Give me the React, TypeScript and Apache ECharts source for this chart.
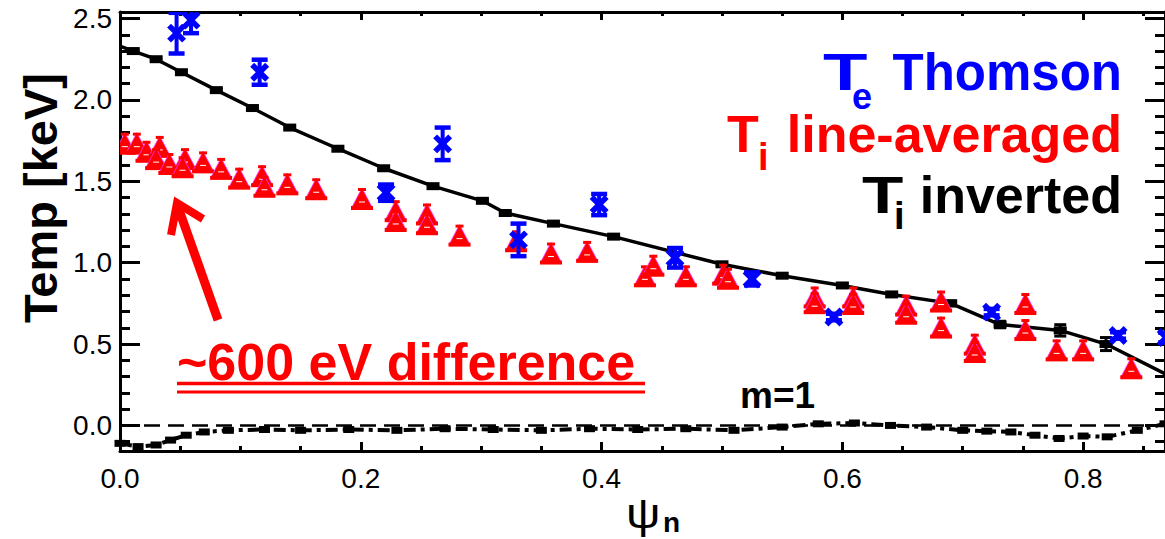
import React, { useEffect, useRef } from "react";
import * as echarts from "echarts";

const FONT = "'Liberation Sans', Arial, Helvetica, sans-serif";

// ---- axis ticks ----
const yMajorTicks = [0, 0.5, 1.0, 1.5, 2.0, 2.5];
const yMinorTicks = [-0.1, 0.1, 0.2, 0.3, 0.4, 0.6, 0.7, 0.8, 0.9, 1.1, 1.2, 1.3, 1.4, 1.6, 1.7, 1.8, 1.9, 2.1, 2.2, 2.3, 2.4];
const xMajorTicks = [0.0, 0.2, 0.4, 0.6, 0.8];
const xMinorTicks = [0.05, 0.1, 0.15, 0.25, 0.3, 0.35, 0.45, 0.5, 0.55, 0.65, 0.7, 0.75, 0.85];

// ---- Ti inverted (black line) ----
const tiInvX = [0.0, 0.011, 0.03, 0.051, 0.08, 0.11, 0.141, 0.181, 0.219, 0.26, 0.301, 0.32, 0.36, 0.41, 0.5, 0.55, 0.6, 0.641, 0.69, 0.731, 0.781, 0.819, 0.87];
const tiInvY = [2.33, 2.3, 2.25, 2.17, 2.06, 1.95, 1.83, 1.7, 1.58, 1.47, 1.38, 1.305, 1.24, 1.16, 0.99, 0.92, 0.86, 0.805, 0.75, 0.62, 0.584, 0.5, 0.31];
const tiInvErr = [0, 0.01, 0.01, 0.01, 0.01, 0.01, 0.01, 0.01, 0.01, 0.01, 0.01, 0.01, 0.01, 0.01, 0.01, 0.01, 0.01, 0.01, 0.015, 0.02, 0.035, 0.04, 0];

// ---- Te Thomson (blue) ----
const teX = [0.047, 0.059, 0.116, 0.221, 0.268, 0.331, 0.398, 0.461, 0.525, 0.593, 0.724, 0.829, 0.869];
const teY = [2.41, 2.49, 2.17, 1.43, 1.73, 1.14, 1.357, 1.03, 0.9, 0.666, 0.696, 0.553, 0.54];
const teErr = [0.125, 0.08, 0.077, 0.05, 0.1, 0.1, 0.065, 0.06, 0.04, 0.02, 0.02, 0.02, 0.03];

// ---- Ti line-averaged (red triangles) ----
const tiLaX = [0.004, 0.014, 0.022, 0.033, 0.03, 0.041, 0.054, 0.052, 0.069, 0.084, 0.099, 0.118, 0.12, 0.139, 0.163, 0.201, 0.229, 0.229, 0.255, 0.255, 0.282, 0.329, 0.358, 0.388, 0.436, 0.443, 0.47, 0.501, 0.505, 0.577, 0.577, 0.609, 0.609, 0.653, 0.653, 0.682, 0.682, 0.71, 0.71, 0.752, 0.752, 0.778, 0.8, 0.84];
const tiLaY = [1.725, 1.725, 1.675, 1.705, 1.63, 1.6, 1.63, 1.58, 1.61, 1.57, 1.51, 1.525, 1.46, 1.475, 1.445, 1.385, 1.31, 1.25, 1.29, 1.23, 1.16, 1.125, 1.05, 1.06, 0.91, 0.975, 0.91, 0.92, 0.895, 0.78, 0.745, 0.78, 0.74, 0.73, 0.68, 0.755, 0.595, 0.49, 0.445, 0.74, 0.58, 0.455, 0.455, 0.345];

// ---- m=1 component ----
const m1X = [0.0, 0.015, 0.03, 0.042, 0.055, 0.07, 0.09, 0.12, 0.15, 0.19, 0.23, 0.27, 0.31, 0.35, 0.39, 0.43, 0.47, 0.51, 0.55, 0.58, 0.61, 0.64, 0.67, 0.7, 0.72, 0.74, 0.76, 0.78, 0.8, 0.82, 0.845, 0.868];
const m1Y = [-0.11, -0.13, -0.12, -0.09, -0.06, -0.04, -0.03, -0.025, -0.03, -0.025, -0.03, -0.02, -0.025, -0.03, -0.02, -0.025, -0.02, -0.03, -0.01, 0.01, 0.015, 0.0, -0.01, -0.03, -0.035, -0.04, -0.06, -0.08, -0.065, -0.07, -0.03, 0.01];

const zeroLineX = [0.0, 0.868];

const X_MIN = 0;
const X_MAX = 0.868;
const Y_MIN = -0.157;
const Y_MAX = 2.54;

function xAxisDef(position: string, ticks: number[], len: number, line: boolean, labels: boolean) {
  return {
    type: "value",
    position,
    min: X_MIN,
    max: X_MAX,
    axisLine: { show: line, onZero: false, lineStyle: { color: "#000", width: 3 } },
    axisTick: { show: true, inside: true, length: len, customValues: ticks, lineStyle: { color: "#000", width: 3 } },
    axisLabel: labels
      ? { show: true, customValues: ticks, formatter: (v: number) => v.toFixed(1), color: "#000", fontSize: 28, fontFamily: FONT, margin: 13 }
      : { show: false },
    splitLine: { show: false },
  };
}

function yAxisDef(position: string, ticks: number[], len: number, line: boolean, labels: boolean) {
  return {
    type: "value",
    position,
    min: Y_MIN,
    max: Y_MAX,
    axisLine: { show: line, onZero: false, lineStyle: { color: "#000", width: 3 } },
    axisTick: { show: true, inside: true, length: len, customValues: ticks, lineStyle: { color: "#000", width: 3 } },
    axisLabel: labels
      ? { show: true, customValues: ticks, formatter: (v: number) => v.toFixed(1), color: "#000", fontSize: 28, fontFamily: FONT, margin: 8 }
      : { show: false },
    splitLine: { show: false },
  };
}

function txt(text: string, x: number, y: number, size: number, color: string, align: string, extra: any = {}) {
  const { weight, ...rest } = extra;
  return {
    type: "text",
    x,
    y,
    z: 100,
    ...rest,
    style: {
      text,
      fill: color,
      fontSize: size,
      fontWeight: weight || "bold",
      fontFamily: FONT,
      align,
      textAlign: align,
      verticalAlign: "middle",
      textVerticalAlign: "middle",
    },
  };
}

export default function App() {
  const ref = useRef<HTMLDivElement>(null);

  useEffect(() => {
    if (!ref.current) return;
    const chart = echarts.init(ref.current, null, { renderer: "svg" });

    const black = "#000000";
    const red = "#ff0000";
    const blue = "#0000ff";

    const option: any = {
      animation: false,
      backgroundColor: "#ffffff",
      grid: { left: 120, top: 12, width: 1047, height: 439, containLabel: false },
      xAxis: [
        xAxisDef("bottom", xMajorTicks, 9, true, true),
        xAxisDef("bottom", xMinorTicks, 5, false, false),
        xAxisDef("top", xMajorTicks, 8, true, false),
        xAxisDef("top", xMinorTicks, 4, false, false),
      ],
      yAxis: [
        yAxisDef("left", yMajorTicks, 20, true, true),
        yAxisDef("left", yMinorTicks, 10, false, false),
        yAxisDef("right", yMajorTicks, 20, true, false),
        yAxisDef("right", yMinorTicks, 10, false, false),
      ],
      series: [
        {
          type: "line",
          name: "zero",
          data: zeroLineX.map((x) => [x, 0]),
          symbol: "none",
          lineStyle: { color: black, width: 2.5, type: [16, 8] },
          z: 2,
        },
        {
          type: "line",
          name: "m=1",
          data: m1X.map((x, i) => [x, m1Y[i]]),
          symbol: "rect",
          symbolSize: [11, 7],
          itemStyle: { color: black },
          lineStyle: { color: black, width: 4, type: [12, 5, 4, 5] },
          z: 2,
        },
        {
          type: "line",
          name: "Ti inverted",
          data: tiInvX.map((x, i) => ({
            value: [x, tiInvY[i]],
            symbol: i === 0 || i === tiInvX.length - 1 ? "none" : "rect",
          })),
          symbolSize: [13, 8],
          itemStyle: { color: black },
          lineStyle: { color: black, width: 3.5 },
          z: 3,
        },
        {
          type: "custom",
          name: "Ti inverted err",
          clip: true,
          data: tiInvX.map((x, i) => [x, tiInvY[i], tiInvErr[i]]),
          encode: { x: 0, y: 1 },
          renderItem: (params: any, api: any) => {
            const x = api.value(0);
            const y = api.value(1);
            const e = api.value(2);
            if (!e) return null;
            const t = api.coord([x, y + e]);
            const b = api.coord([x, y - e]);
            const st = { stroke: black, lineWidth: 3 };
            return {
              type: "group",
              children: [
                { type: "line", shape: { x1: t[0], y1: t[1], x2: b[0], y2: b[1] }, style: st },
                { type: "line", shape: { x1: t[0] - 6, y1: t[1], x2: t[0] + 6, y2: t[1] }, style: st },
                { type: "line", shape: { x1: b[0] - 6, y1: b[1], x2: b[0] + 6, y2: b[1] }, style: st },
              ],
            };
          },
          z: 3,
        },
        {
          type: "custom",
          name: "Ti line-averaged",
          clip: true,
          data: tiLaX.map((x, i) => [x, tiLaY[i]]),
          encode: { x: 0, y: 1 },
          renderItem: (params: any, api: any) => {
            const c = api.coord([api.value(0), api.value(1)]);
            const cx = c[0];
            const cy = c[1];
            return {
              type: "group",
              children: [
                {
                  type: "polygon",
                  shape: { points: [[cx, cy - 12], [cx - 10.5, cy + 8], [cx + 10.5, cy + 8]] },
                  style: { fill: red, stroke: "#ff33ff", lineWidth: 0.8 },
                },
                { type: "rect", shape: { x: cx - 11, y: cy + 6, width: 22, height: 4 }, style: { fill: red } },
                { type: "rect", shape: { x: cx - 4, y: cy - 12, width: 8, height: 3 }, style: { fill: red } },
                { type: "line", shape: { x1: cx - 3, y1: cy + 2, x2: cx + 3, y2: cy + 2 }, style: { stroke: "#ffffff", lineWidth: 1 } },
              ],
            };
          },
          z: 4,
        },
        {
          type: "custom",
          name: "Te Thomson",
          clip: true,
          data: teX.map((x, i) => [x, teY[i], teErr[i]]),
          encode: { x: 0, y: 1 },
          renderItem: (params: any, api: any) => {
            const x = api.value(0);
            const y = api.value(1);
            const e = api.value(2);
            const c = api.coord([x, y]);
            const t = api.coord([x, y + e]);
            const b = api.coord([x, y - e]);
            const st = { stroke: blue, lineWidth: 4 };
            const s = 7.5;
            return {
              type: "group",
              children: [
                { type: "line", shape: { x1: c[0], y1: t[1], x2: c[0], y2: b[1] }, style: st },
                { type: "line", shape: { x1: c[0] - 8, y1: t[1], x2: c[0] + 8, y2: t[1] }, style: { stroke: blue, lineWidth: 4.5 } },
                { type: "line", shape: { x1: c[0] - 8, y1: b[1], x2: c[0] + 8, y2: b[1] }, style: { stroke: blue, lineWidth: 4.5 } },
                { type: "line", shape: { x1: c[0] - s, y1: c[1] - s, x2: c[0] + s, y2: c[1] + s }, style: { stroke: blue, lineWidth: 5.5 } },
                { type: "line", shape: { x1: c[0] - s, y1: c[1] + s, x2: c[0] + s, y2: c[1] - s }, style: { stroke: blue, lineWidth: 5.5 } },
              ],
            };
          },
          z: 5,
        },
      ],
      graphic: [
        // y axis title
        { ...txt("Temp [keV]", 40, 198, 47, black, "center"), rotation: Math.PI / 2 },
        // x axis title
        txt("\u03c8", 626, 514, 42, black, "left", { weight: "normal", scaleX: 1.15 }),
        txt("n", 663, 522, 28, black, "left"),
        // legend
        txt("T", 823, 72, 52, blue, "left", { scaleX: 1.4 }),
        txt("e", 852, 96, 36, blue, "left"),
        txt("Thomson", 1122, 72, 51, blue, "right"),
        txt("T", 727, 134, 52, red, "left"),
        txt("i", 758, 157, 38, red, "left"),
        txt("line-averaged", 1122, 134, 52, red, "right"),
        txt("T", 862, 195, 52, black, "left", { scaleX: 1.3 }),
        txt("i", 894, 216, 38, black, "left"),
        txt("inverted", 1122, 195, 52, black, "right"),
        // annotation
        txt("~600 eV difference", 177, 362, 52, red, "left"),
        { type: "line", z: 100, shape: { x1: 177, y1: 383.5, x2: 645, y2: 383.5 }, style: { stroke: red, lineWidth: 3.5 } },
        { type: "line", z: 100, shape: { x1: 177, y1: 392, x2: 645, y2: 392 }, style: { stroke: red, lineWidth: 3 } },
        { type: "line", z: 100, shape: { x1: 218, y1: 320, x2: 178, y2: 207 }, style: { stroke: red, lineWidth: 9 } },
        {
          type: "polyline",
          z: 100,
          shape: { points: [[171, 235], [177, 203], [203, 219]] },
          style: { stroke: red, lineWidth: 8, fill: "none", lineJoin: "miter" },
        },
        txt("m=1", 740, 395, 37, black, "left"),
      ],
    };

    chart.setOption(option);
    return () => chart.dispose();
  }, []);

  return <div ref={ref} style={{ position: "absolute", left: 0, top: 0, width: 1165, height: 539 }} />;
}
